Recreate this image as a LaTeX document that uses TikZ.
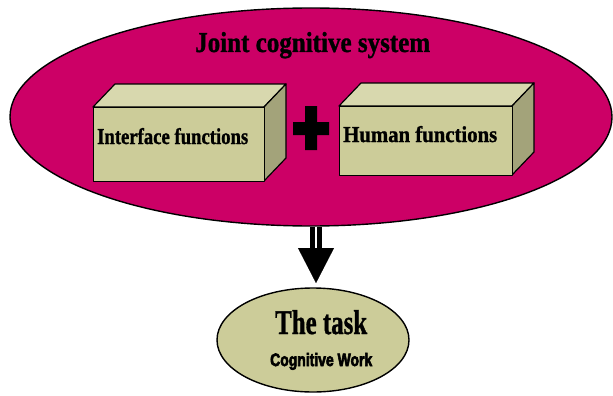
\documentclass[tikz,border=0pt]{standalone}
\usepackage{fontspec}
\usepackage{graphicx}
\setmainfont{Liberation Serif}
\newfontfamily\heavyserif[FakeBold=1.2]{Liberation Serif Bold}
\newfontfamily\heavysans[FakeBold=4]{Liberation Sans Bold}
\usetikzlibrary{shapes.geometric,arrows.meta,calc}

\definecolor{sysmagenta}{HTML}{CC0066}
\definecolor{khakifront}{HTML}{CCCC99}
\definecolor{khakitop}{HTML}{D8D8AE}
\definecolor{khakiside}{HTML}{A3A37A}

% text squeezed to a given width and height
\newcommand\fittext[3]{\resizebox{#1}{#2}{#3}}

\tikzset{
  outline/.style={draw=black, line width=1.4pt},
  frontface/.style={fill=khakifront, draw=black, line width=1.2pt, line join=round},
  topface/.style={fill=khakitop, draw=black, line width=1.2pt, line join=round},
  sideface/.style={fill=khakiside, draw=black, line width=1.2pt, line join=round},
  label/.style={inner sep=0pt, anchor=base west},
  shaftline/.style={draw=black, line width=5pt, double=white, double distance=2.5pt},
  headline/.style={line width=0.1pt, -{Triangle[length=35pt,width=36pt]}},
}

\begin{document}
\begin{tikzpicture}[x=1pt, y=-1pt]
\useasboundingbox (0,0) rectangle (613,396);

% outer system ellipse
\node[ellipse, outline, fill=sysmagenta, minimum width=602pt, minimum height=218pt, inner sep=0pt]
  (jcs) at (311,117) {};
\node[label] (jcstitle) at (195,52) {\fittext{235pt}{20pt}{\heavyserif Joint cognitive system}};

% left block
\fill[topface]  (93,107) -- (115,84) -- (286,84) -- (264,107) -- cycle;
\fill[sideface] (264,107) -- (286,84) -- (286,158) -- (264,181) -- cycle;
\node[frontface, minimum width=171pt, minimum height=74pt, inner sep=0pt, anchor=north west]
  (iface) at (93,107) {};
\node[label] (ifacetext) at (97,144) {\fittext{151pt}{16pt}{\heavyserif Interface functions}};

% plus sign
\fill[black] (305,106) -- (317,106) -- (317,122) -- (329,122) -- (329,135) -- (317,135)
  -- (317,150) -- (305,150) -- (305,135) -- (293,135) -- (293,122) -- (305,122) -- cycle;

% right block
\fill[topface]  (339,106) -- (361,83) -- (534,83) -- (512,106) -- cycle;
\fill[sideface] (512,106) -- (534,83) -- (534,152) -- (512,175) -- cycle;
\node[frontface, minimum width=173pt, minimum height=69pt, inner sep=0pt, anchor=north west]
  (human) at (339,106) {};
\node[label] (humantext) at (343,142) {\fittext{154pt}{16pt}{\heavyserif Human functions}};

% task ellipse
\node[ellipse, outline, fill=khakifront, minimum width=192pt, minimum height=104pt, inner sep=0pt]
  (task) at (313,340) {};
\node[label] (tasktitle) at (275,334) {\fittext{92pt}{24pt}{\heavyserif The task}};
\node[label] (tasksub) at (270,366) {\fittext{102pt}{13pt}{\heavysans Cognitive Work}};

% arrow from the system to the task
\coordinate (head) at (316,248);
\coordinate (tip) at (316,283);
\draw[shaftline] (jcs.south -| tip) -- ($(head)+(0,2)$);
\draw[headline] (head) -- (tip);
\end{tikzpicture}
\end{document}
